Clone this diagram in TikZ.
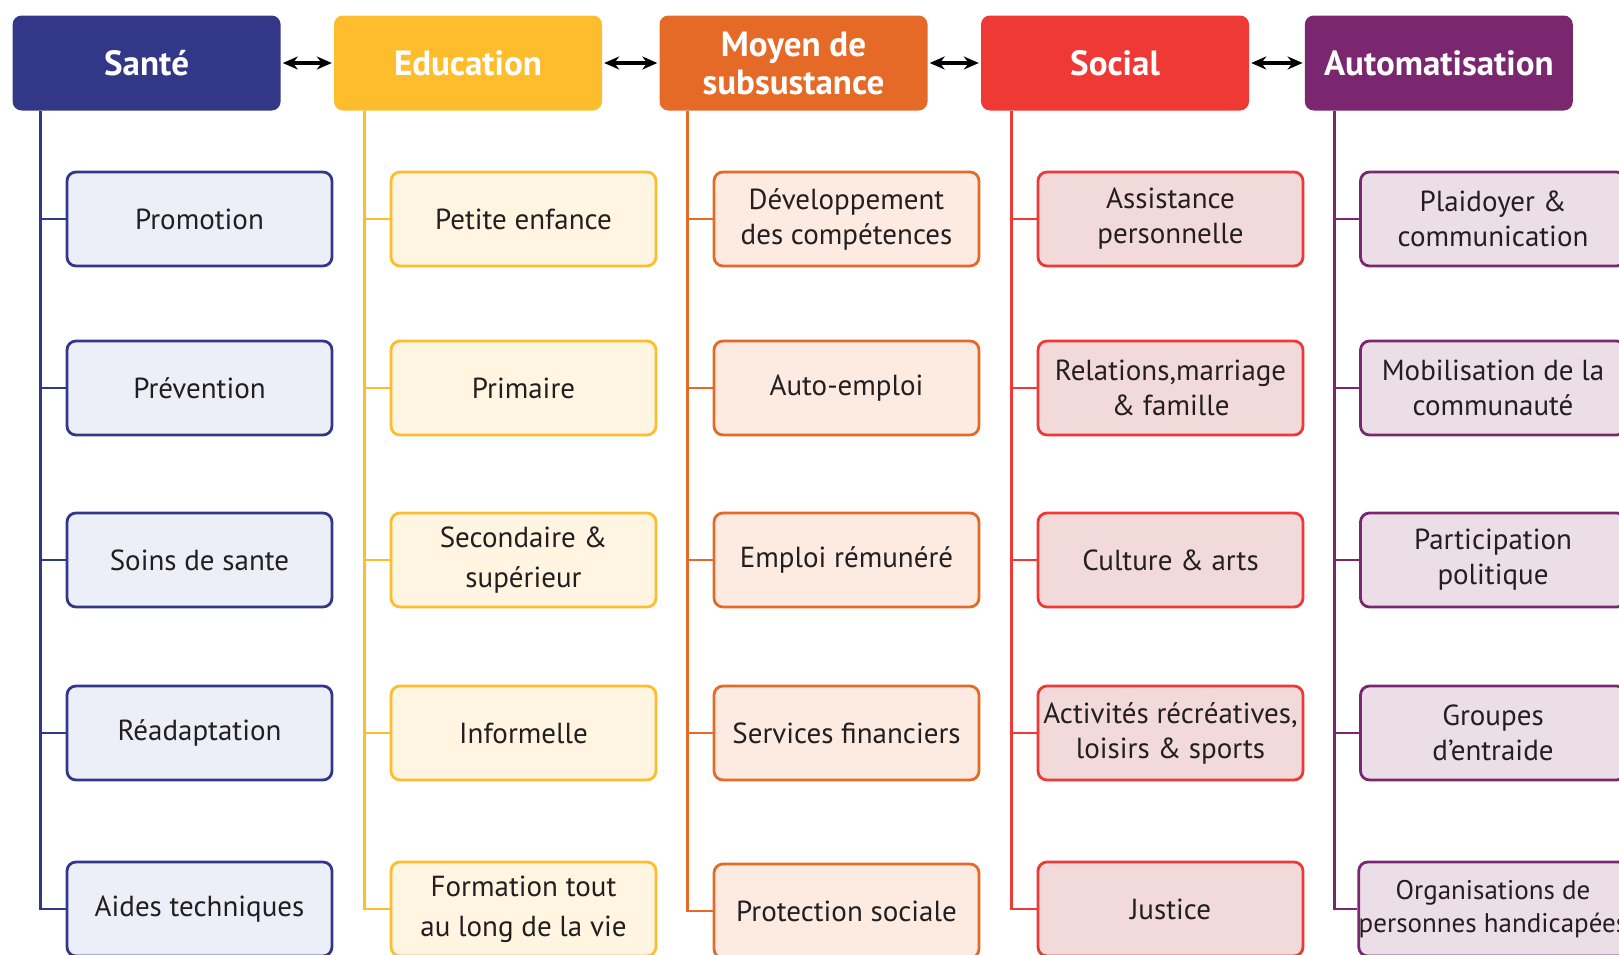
\documentclass[tikz,border=0pt]{standalone}
\usepackage{fontspec}
\setmainfont{PT Sans}
\usetikzlibrary{arrows.meta}

\definecolor{santeC}{HTML}{323887}
\definecolor{santeF}{HTML}{ECEEF8}
\definecolor{educC}{HTML}{FDBD2C}
\definecolor{educF}{HTML}{FFF5E1}
\definecolor{moyenC}{HTML}{E66A27}
\definecolor{moyenF}{HTML}{FDEBE2}
\definecolor{socialC}{HTML}{EF3935}
\definecolor{socialF}{HTML}{F2DADB}
\definecolor{automC}{HTML}{7B2770}
\definecolor{automF}{HTML}{EBDEE6}
\definecolor{inkC}{HTML}{231F20}

\tikzset{
  head/.style={rounded corners=9pt, minimum width=268pt, minimum height=95pt, inner sep=0pt,
    text=white, align=center, font=\bfseries\fontsize{35}{38}\selectfont},
  item/.style={rounded corners=9pt, line width=2.8pt, minimum width=265pt, minimum height=94pt,
    inner sep=0pt, align=center, text=inkC, font=\fontsize{29}{35}\selectfont},
  wide/.style={font=\fontsize{29}{40}\selectfont},
  link/.style={line width=2.8pt},
  both/.style={line width=3.2pt, {Stealth[length=15pt,width=13pt]}-{Stealth[length=15pt,width=13pt]},
    shorten <=2pt, shorten >=2pt},
}

\begin{document}
\begin{tikzpicture}[x=1pt,y=-1pt]
\clip (0,0) rectangle (1619,954);

% headers
\node[head, fill=santeC] (sante) at (146.6,63) {Santé};
\node[head, fill=educC] (educ) at (468,63) {Education};
\node[head, fill=moyenC] (moyen) at (793.5,63) {Moyen de\\subsustance};
\node[head, fill=socialC] (social) at (1115,63) {Social};
\node[head, fill=automC] (autom) at (1438.8,63) {Automatisation};

\draw[both] (sante.east) -- (educ.west);
\draw[both] (educ.east) -- (moyen.west);
\draw[both] (moyen.east) -- (social.west);
\draw[both] (social.east) -- (autom.west);

% Sante
\node[item, draw=santeC, fill=santeF] (s1) at (199.5,219) {Promotion};
\node[item, draw=santeC, fill=santeF] (s2) at (199.5,388) {Prévention};
\node[item, draw=santeC, fill=santeF] (s3) at (199.5,560) {Soins de sante};
\node[item, draw=santeC, fill=santeF] (s4) at (199.5,733) {Réadaptation};
\node[item, draw=santeC, fill=santeF] (s5) at (199.5,909) {Aides techniques};
\coordinate (santeL) at ([xshift=28pt]sante.south west);
\draw[link, santeC] (santeL) |- (s5.west);
\draw[link, santeC] (s1.west) -- (s1.west -| santeL);
\draw[link, santeC] (s2.west) -- (s2.west -| santeL);
\draw[link, santeC] (s3.west) -- (s3.west -| santeL);
\draw[link, santeC] (s4.west) -- (s4.west -| santeL);

% Education
\node[item, draw=educC, fill=educF] (e1) at (523.5,219) {Petite enfance};
\node[item, draw=educC, fill=educF] (e2) at (523.5,388) {Primaire};
\node[item, wide, draw=educC, fill=educF] (e3) at (523.5,560) {Secondaire \&\\supérieur};
\node[item, draw=educC, fill=educF] (e4) at (523.5,733) {Informelle};
\node[item, wide, draw=educC, fill=educF] (e5) at (523.5,909) {Formation tout\\au long de la vie};
\coordinate (educL) at ([xshift=30.5pt]educ.south west);
\draw[link, educC] (educL) |- (e5.west);
\draw[link, educC] (e1.west) -- (e1.west -| educL);
\draw[link, educC] (e2.west) -- (e2.west -| educL);
\draw[link, educC] (e3.west) -- (e3.west -| educL);
\draw[link, educC] (e4.west) -- (e4.west -| educL);

% Moyen de subsustance
\node[item, draw=moyenC, fill=moyenF] (m1) at (846.5,219) {Développement\\des compétences};
\node[item, draw=moyenC, fill=moyenF] (m2) at (846.5,388) {Auto-emploi};
\node[item, draw=moyenC, fill=moyenF] (m3) at (846.5,560) {Emploi rémunéré};
\node[item, draw=moyenC, fill=moyenF] (m4) at (846.5,733) {Services financiers};
\node[item, draw=moyenC, fill=moyenF] (m5) at (846.5,911) {Protection sociale};
\coordinate (moyenL) at ([xshift=28pt]moyen.south west);
\draw[link, moyenC] (moyenL) |- (m5.west);
\draw[link, moyenC] (m1.west) -- (m1.west -| moyenL);
\draw[link, moyenC] (m2.west) -- (m2.west -| moyenL);
\draw[link, moyenC] (m3.west) -- (m3.west -| moyenL);
\draw[link, moyenC] (m4.west) -- (m4.west -| moyenL);

% Social
\node[item, draw=socialC, fill=socialF] (c1) at (1170.5,219) {Assistance\\personnelle};
\node[item, draw=socialC, fill=socialF] (c2) at (1170.5,388) {Relations,marriage\\\& famille};
\node[item, draw=socialC, fill=socialF] (c3) at (1170.5,560) {Culture \& arts};
\node[item, draw=socialC, fill=socialF] (c4) at (1170.5,733) {Activités récréatives,\\loisirs \& sports};
\node[item, draw=socialC, fill=socialF] (c5) at (1170.5,909) {Justice};
\coordinate (socialL) at ([xshift=31pt]social.south west);
\draw[link, socialC] (socialL) |- (c5.west);
\draw[link, socialC] (c1.west) -- (c1.west -| socialL);
\draw[link, socialC] (c2.west) -- (c2.west -| socialL);
\draw[link, socialC] (c3.west) -- (c3.west -| socialL);
\draw[link, socialC] (c4.west) -- (c4.west -| socialL);

% Automatisation
\node[item, draw=automC, fill=automF] (a1) at (1493,219) {Plaidoyer \&\\communication};
\node[item, draw=automC, fill=automF] (a2) at (1493,388) {Mobilisation de la\\communauté};
\node[item, draw=automC, fill=automF] (a3) at (1493,560) {Participation\\politique};
\node[item, draw=automC, fill=automF] (a4) at (1493,733) {Groupes\\d’entraide};
\node[item, draw=automC, fill=automF, font=\fontsize{27}{33}\selectfont] (a5) at (1493,909) {Organisations de\\personnes handicapées};
\coordinate (automL) at ([xshift=30pt]autom.south west);
\draw[link, automC] (automL) |- (a5.west);
\draw[link, automC] (a1.west) -- (a1.west -| automL);
\draw[link, automC] (a2.west) -- (a2.west -| automL);
\draw[link, automC] (a3.west) -- (a3.west -| automL);
\draw[link, automC] (a4.west) -- (a4.west -| automL);
\end{tikzpicture}
\end{document}
